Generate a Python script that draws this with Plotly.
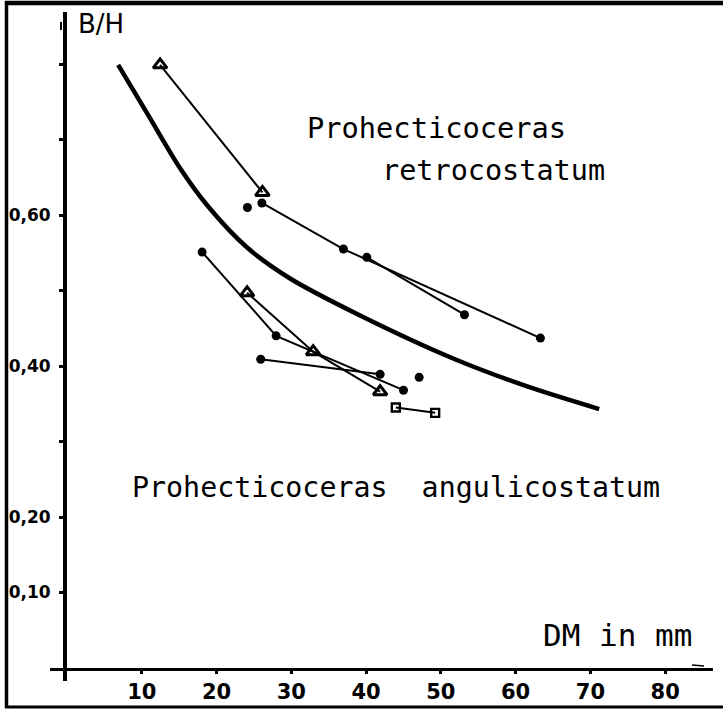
import plotly.graph_objects as go

# ---- data ----
curve_x = [6.84, 11.12, 15.13, 18.74, 24.09, 29.84, 39.2, 51.65, 61.55, 71.18]
curve_y = [0.799, 0.728, 0.662, 0.613, 0.557, 0.516, 0.467, 0.410, 0.373, 0.343]

retro_tri_x = [12.45, 26.14]
retro_tri_y = [0.799, 0.630]

retro_a_x = [26.06, 36.97, 63.32]
retro_a_y = [0.616, 0.555, 0.437]

retro_b_x = [40.1, 53.16]
retro_b_y = [0.544, 0.468]

retro_single_x = [24.13]
retro_single_y = [0.610]

ang_dot_x = [18.07, 27.97, 45.0]
ang_dot_y = [0.551, 0.440, 0.368]

ang_tri_x = [24.09, 32.92, 41.88]
ang_tri_y = [0.497, 0.419, 0.366]

ang_dot2_x = [25.91, 41.88]
ang_dot2_y = [0.409, 0.389]

ang_single_x = [47.1]
ang_single_y = [0.385]

ang_sq_x = [43.98, 49.24]
ang_sq_y = [0.345, 0.338]

x_tick_vals = [10, 20, 30, 40, 50, 60, 70, 80]
x_tick_text = ["10", "20", "30", "40", "50", "60", "70", "80"]
y_tick_vals = [0.1, 0.2, 0.3, 0.4, 0.5, 0.6, 0.7, 0.8]
y_tick_text = ["0,10", "0,20", "", "0,40", "", "0,60", "", ""]

# ---- layout geometry ----
W, H = 723, 709
ML, MR, MT, MB = 67, 10, 12, 41
PW, PH = W - ML - MR, H - MT - MB


def px_x(px):
    return (px - ML) / PW


def px_y(py):
    return (H - MB - py) / PH


fig = go.Figure()

fig.add_trace(go.Scatter(x=curve_x, y=curve_y, mode="lines",
                         line=dict(color="black", width=4.5, shape="spline", smoothing=0.8),
                         hoverinfo="skip"))

dot = dict(symbol="circle", size=9, color="black")
tri = dict(symbol="triangle-up-open", size=12, color="black", line=dict(width=3, color="black"))
sq = dict(symbol="square-open", size=8, color="black", line=dict(width=2.4, color="black"))
ln = dict(color="black", width=2)

fig.add_trace(go.Scatter(x=retro_tri_x, y=retro_tri_y, mode="lines+markers", line=ln, marker=tri))
fig.add_trace(go.Scatter(x=retro_a_x, y=retro_a_y, mode="lines+markers", line=ln, marker=dot))
fig.add_trace(go.Scatter(x=retro_b_x, y=retro_b_y, mode="lines+markers", line=ln, marker=dot))
fig.add_trace(go.Scatter(x=retro_single_x, y=retro_single_y, mode="markers", marker=dot))
fig.add_trace(go.Scatter(x=ang_dot_x, y=ang_dot_y, mode="lines+markers", line=ln, marker=dot))
fig.add_trace(go.Scatter(x=ang_tri_x, y=ang_tri_y, mode="lines+markers", line=ln, marker=tri))
fig.add_trace(go.Scatter(x=ang_dot2_x, y=ang_dot2_y, mode="lines+markers", line=ln, marker=dot))
fig.add_trace(go.Scatter(x=ang_single_x, y=ang_single_y, mode="markers", marker=dot))
fig.add_trace(go.Scatter(x=ang_sq_x, y=ang_sq_y, mode="lines+markers", line=ln, marker=sq))

mono = "DejaVu Sans Mono"
ann = [
    dict(text="Prohecticoceras", x=px_x(304.5), y=px_y(128), size=28.7, fam=mono),
    dict(text="retrocostatum", x=px_x(380), y=px_y(170.5), size=28.5, fam=mono),
    dict(text="Prohecticoceras  angulicostatum", x=px_x(130), y=px_y(487), size=28.3, fam=mono),
    dict(text="DM in mm", x=px_x(541), y=px_y(634.5), size=31, fam=mono),
    dict(text="B/H", x=px_x(76), y=px_y(23.5), size=26, fam="DejaVu Sans"),
]
for a in ann:
    fig.add_annotation(text=a["text"], x=a["x"], y=a["y"], xref="paper", yref="paper",
                       xanchor="left", yanchor="middle", showarrow=False,
                       font=dict(family=a["fam"], size=a["size"], color="black"))

shapes = [
    # frame
    dict(x0=px_x(5), x1=px_x(723), y0=px_y(3), y1=px_y(3), w=4.5),
    dict(x0=px_x(6.5), x1=px_x(6.5), y0=px_y(1), y1=px_y(708), w=3.5),
    dict(x0=px_x(5), x1=px_x(723), y0=px_y(707), y1=px_y(707), w=3),
    # axis extensions
    dict(x0=px_x(65), x1=px_x(65), y0=0, y1=px_y(681), w=4),
    dict(x0=px_x(50), x1=0, y0=px_y(669.5), y1=px_y(669.5), w=3),
    # small arrow marks
    dict(x0=px_x(61), x1=px_x(61), y0=px_y(22), y1=px_y(30), w=2),
    dict(x0=px_x(692), x1=px_x(704), y0=px_y(665), y1=px_y(666), w=1.5),
]
for s in shapes:
    fig.add_shape(type="line", xref="paper", yref="paper", x0=s["x0"], x1=s["x1"],
                  y0=s["y0"], y1=s["y1"], line=dict(color="black", width=s["w"]))

fig.update_layout(
    width=W, height=H,
    margin=dict(l=ML, r=MR, t=MT, b=MB, pad=0, autoexpand=False),
    paper_bgcolor="white", plot_bgcolor="white",
    showlegend=False,
    xaxis=dict(range=[0, 86.4], showgrid=False, zeroline=False, showline=True,
               automargin=False,
               linecolor="black", linewidth=3, ticks="outside", ticklen=3, tickwidth=3,
               tickcolor="black", tickvals=x_tick_vals, ticktext=x_tick_text,
               tickfont=dict(family="DejaVu Sans", size=21, color="black", weight="bold"),
               ticklabelstandoff=0),
    yaxis=dict(range=[0, 0.869], showgrid=False, zeroline=False, showline=True,
               automargin=False,
               linecolor="black", linewidth=4, ticks="outside", ticklen=4, tickwidth=3,
               tickcolor="black", tickvals=y_tick_vals, ticktext=y_tick_text,
               tickfont=dict(family="DejaVu Sans", size=17, color="black", weight="bold"),
               ticklabelstandoff=5),
)

page_fix = (
    "var h=document.documentElement,b=document.body;"
    "h.style.margin='0';h.style.padding='0';h.style.overflow='hidden';"
    "b.style.margin='0';b.style.padding='0';b.style.overflow='hidden';"
)

fig.write_html("out.html",
               config={"displayModeBar": False, "responsive": False},
               post_script=page_fix)
